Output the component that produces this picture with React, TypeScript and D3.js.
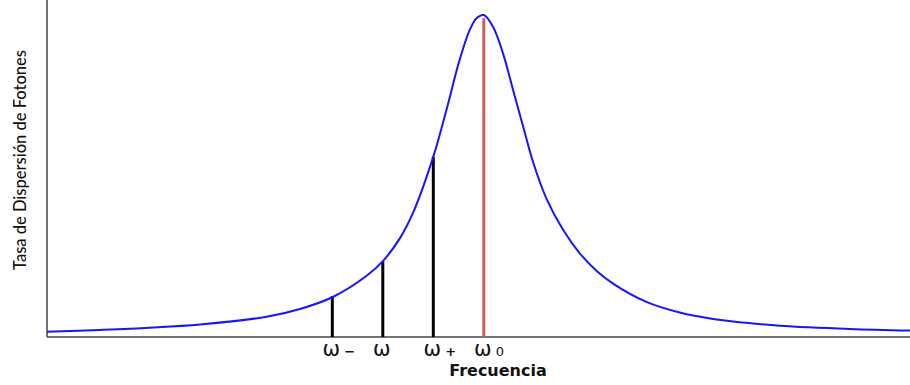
import React from "react";
import * as d3 from "d3";

// Frequency offsets from the resonance (in linewidth-like units) and scattering rate (normalised).
const FREQS = [
  -8.65, -7.6, -6.61, -5.62, -4.3, -3.64, -2.98, -2.32, -1.99, -1.66, -1.4, -1.0, -0.74,
  -0.48, -0.28, -0.145, 0, 0.18, 0.38, 0.58, 0.78, 0.98, 1.24, 1.57, 1.9, 2.23, 2.56, 3.22,
  3.88, 4.54, 5.2, 5.86, 7.25, 8.44,
];
const RATES = [
  0.016, 0.022, 0.029, 0.039, 0.063, 0.087, 0.125, 0.19, 0.237, 0.307, 0.386, 0.56, 0.705,
  0.86, 0.953, 0.99, 1.0, 0.964, 0.881, 0.767, 0.653, 0.541, 0.43, 0.333, 0.26, 0.206,
  0.166, 0.109, 0.076, 0.056, 0.044, 0.035, 0.025, 0.02,
];

// Marked frequencies: ω−, ω, ω+, ω0
const MARKER_FREQS = [-3, -2, -1, 0];
const MARKER_RATES = [0.127, 0.234, 0.56, 0.99];
const MARKER_SUBS = ["−", "", "+", "0"];
const MARKER_COLORS = ["#000", "#000", "#000", "#c8605c"];

const FREQ_DOMAIN = [-8.65, 8.44];
const X_LABEL = "Frecuencia";
const Y_LABEL = "Tasa de Dispersión de Fotones";

export default function App() {
  const width = 910;
  const height = 385;
  const left = 47;
  const right = 910;
  const bottom = 337;
  const top = 15;

  const x = d3.scaleLinear().domain(FREQ_DOMAIN).range([left, right]);
  const y = d3.scaleLinear().domain([0, 1]).range([bottom, top]);

  const points = FREQS.map((f, i) => [f, RATES[i]] as [number, number]);
  const line = d3
    .line<[number, number]>()
    .x((d) => x(d[0]))
    .y((d) => y(d[1]))
    .curve(d3.curveCatmullRom.alpha(0.5));

  return (
    <svg
      width={width}
      height={height}
      style={{ position: "absolute", left: 0, top: 0, display: "block", background: "#fff" }}
    >
      {/* axes */}
      <line x1={left} y1={0} x2={left} y2={bottom} stroke="#444" strokeWidth={1.5} />
      <line x1={left} y1={bottom} x2={right} y2={bottom} stroke="#444" strokeWidth={1.5} />

      {/* marker lines */}
      {MARKER_FREQS.map((f, i) => (
        <line
          key={"m" + i}
          x1={x(f)}
          x2={x(f)}
          y1={bottom}
          y2={y(MARKER_RATES[i])}
          stroke={MARKER_COLORS[i]}
          strokeWidth={3}
        />
      ))}

      {/* resonance curve */}
      <path d={line(points) ?? ""} fill="none" stroke="#1515ff" strokeWidth={2} />

      {/* marker labels */}
      {MARKER_FREQS.map((f, i) => (
        <g key={"l" + i} fontFamily="DejaVu Sans, Verdana, sans-serif" fill="#111">
          <text x={x(f) - 1} y={356} fontSize={21} textAnchor="middle">
            ω
          </text>
          {MARKER_SUBS[i] && (
            <text
              x={x(f) + 12}
              y={356}
              fontSize={13}
              textAnchor="start"
              fontWeight={MARKER_SUBS[i] === "0" ? "normal" : "bold"}
            >
              {MARKER_SUBS[i]}
            </text>
          )}
        </g>
      ))}

      {/* axis titles */}
      <text
        x={498}
        y={376}
        textAnchor="middle"
        fontFamily="DejaVu Sans, Verdana, sans-serif"
        fontWeight="bold"
        fontSize={16}
        fill="#111"
      >
        {X_LABEL}
      </text>
      <text
        transform="translate(26,160) rotate(-90)"
        textAnchor="middle"
        fontFamily="Lato, sans-serif"
        fontSize={18}
        fontWeight={500}
        textLength={220}
        lengthAdjust="spacingAndGlyphs"
        fill="#111"
      >
        {Y_LABEL}
      </text>
    </svg>
  );
}
